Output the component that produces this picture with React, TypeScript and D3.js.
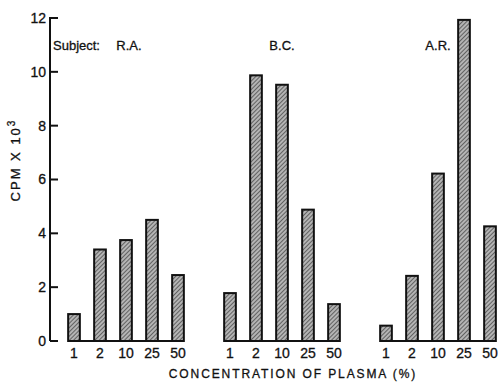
import { useEffect, useRef } from "react";
import * as d3 from "d3";

const subjects = ["R.A.", "B.C.", "A.R."];
const concentrations = ["1", "2", "10", "25", "50"];
const raValues = [1.0, 3.4, 3.75, 4.5, 2.45];
const bcValues = [1.78, 9.87, 9.52, 4.88, 1.37];
const arValues = [0.57, 2.42, 6.22, 11.93, 4.26];
const yTicks = [0, 2, 4, 6, 8, 10, 12];

export default function App() {
  const ref = useRef<SVGSVGElement>(null);

  useEffect(() => {
    const svg = d3.select(ref.current);
    svg.selectAll("*").remove();

    const width = 502;
    const height = 382;
    const font = "'Liberation Sans', Arial, sans-serif";
    svg.attr("width", width).attr("height", height);

    // hatch pattern for the bars
    const defs = svg.append("defs");
    const pat = defs
      .append("pattern")
      .attr("id", "hatch")
      .attr("patternUnits", "userSpaceOnUse")
      .attr("width", 3)
      .attr("height", 3)
      .attr("patternTransform", "rotate(45)");
    pat.append("rect").attr("width", 3).attr("height", 3).attr("fill", "#b4b4b4");
    pat
      .append("line")
      .attr("x1", 0)
      .attr("y1", 0)
      .attr("x2", 0)
      .attr("y2", 3)
      .attr("stroke", "#333")
      .attr("stroke-width", 1.3);

    const y = d3.scaleLinear().domain([0, 12]).range([341, 18]);
    const axisX = 50;

    const outer = d3.scaleBand().domain(subjects).range([61, 503]).paddingInner(1 / 6).paddingOuter(0);
    const inner = d3
      .scaleBand()
      .domain(concentrations)
      .range([0, outer.bandwidth()])
      .paddingInner(0.55)
      .paddingOuter(0.275);

    const series = [raValues, bcValues, arValues];

    // text helper, slight stroke to get the heavier printed look
    const label = (sel: d3.Selection<SVGTextElement, any, any, any>, size: number) =>
      sel
        .attr("font-family", font)
        .attr("font-size", size)
        .attr("fill", "#111")
        .attr("stroke", "#111")
        .attr("stroke-width", 0.3);

    // y axis
    svg
      .append("line")
      .attr("x1", axisX)
      .attr("x2", axisX)
      .attr("y1", y(12) - 1)
      .attr("y2", y(0))
      .attr("stroke", "#111")
      .attr("stroke-width", 2);

    yTicks.forEach((t) => {
      svg
        .append("line")
        .attr("x1", axisX)
        .attr("x2", axisX + 8)
        .attr("y1", y(t))
        .attr("y2", y(t))
        .attr("stroke", "#111")
        .attr("stroke-width", 2);
      label(svg.append("text"), 14)
        .attr("x", axisX - 4)
        .attr("y", y(t))
        .attr("dy", "0.35em")
        .attr("text-anchor", "end")
        .text(t);
    });

    // y label
    label(svg.append("text"), 13)
      .attr("transform", `translate(20,160) rotate(-90)`)
      .attr("text-anchor", "middle")
      .attr("letter-spacing", 2)
      .html("CPM X 10<tspan dy='-5' font-size='10'>3</tspan>");

    subjects.forEach((s, i) => {
      const gx = outer(s) as number;
      const g = svg.append("g").attr("transform", `translate(${gx},0)`);
      const first = inner(concentrations[0]) as number;
      const last = (inner(concentrations[4]) as number) + inner.bandwidth();

      g.append("line")
        .attr("x1", first)
        .attr("x2", last)
        .attr("y1", y(0))
        .attr("y2", y(0))
        .attr("stroke", "#111")
        .attr("stroke-width", 2);

      g.selectAll("rect.bar")
        .data(series[i])
        .join("rect")
        .attr("class", "bar")
        .attr("x", (_, j) => inner(concentrations[j]) as number)
        .attr("y", (d) => y(d))
        .attr("width", inner.bandwidth())
        .attr("height", (d) => y(0) - y(d))
        .attr("fill", "url(#hatch)")
        .attr("stroke", "#111")
        .attr("stroke-width", 2);

      g.selectAll("text.tick")
        .data(concentrations)
        .join("text")
        .attr("class", "tick")
        .attr("x", (c) => (inner(c) as number) + inner.bandwidth() / 2)
        .attr("y", 358)
        .attr("text-anchor", "middle")
        .attr("font-family", font)
        .attr("font-size", 14)
        .attr("fill", "#111")
        .attr("stroke", "#111")
        .attr("stroke-width", 0.3)
        .text((c) => c);

      label(g.append("text"), 13)
        .attr("x", outer.bandwidth() / 2 + (i === 0 ? 3 : 0))
        .attr("y", 50)
        .attr("text-anchor", "middle")
        .text(s);
    });

    label(svg.append("text"), 13).attr("x", 53).attr("y", 50).text("Subject:");

    label(svg.append("text"), 12)
      .attr("x", 293)
      .attr("y", 378)
      .attr("text-anchor", "middle")
      .attr("letter-spacing", 1.9)
      .text("CONCENTRATION OF PLASMA (%)");
  }, []);

  return <svg ref={ref} style={{ position: "absolute", left: 0, top: 0 }}></svg>;
}
